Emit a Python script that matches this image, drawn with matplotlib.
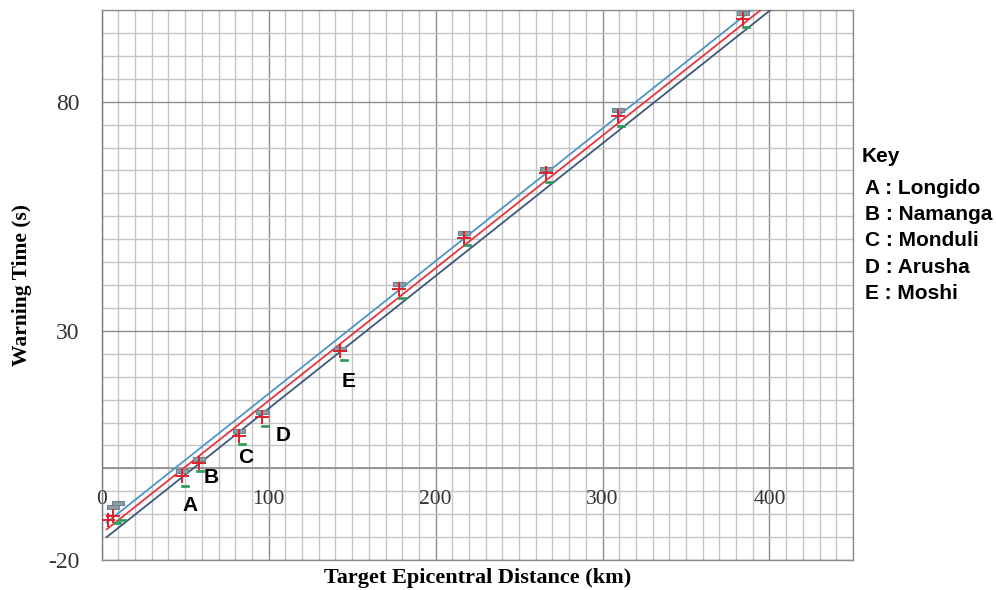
import matplotlib
matplotlib.use("Agg")
import matplotlib.pyplot as plt
from matplotlib.ticker import MultipleLocator
import numpy as np

# ---------------- data ----------------
upper_x = [7, 10, 48, 58, 82, 96, 143, 178, 217, 266, 309, 384]
upper_y = [-8.4, -7.6, -0.5, 2.0, 8.2, 12.3, 26.1, 40.3, 51.4, 65.4, 78.1, 99.4]

mid_x = [4, 7, 48, 58, 82, 96, 143, 178, 217, 266, 309, 384]
mid_y = [-11.3, -10.4, -1.7, 1.2, 7.1, 11.2, 25.6, 39.2, 50.3, 64.5, 76.9, 98.0]

low_x = [9, 12, 50, 59, 84, 98, 145, 180, 219, 268, 311, 386]
low_y = [-12.0, -11.2, -3.8, -0.5, 5.4, 9.2, 23.7, 37.2, 48.8, 62.5, 74.7, 96.2]

line_x = [3, 412]
line_upper = [-11.8, 106.6]
line_mid = [-13.3, 105.0]
line_low = [-15.0, 103.3]

town_letters = ["A", "B", "C", "D", "E"]
town_label_x = [52.7, 65.3, 86.2, 108.9, 147.7]
town_label_y = [-8.0, -2.1, 2.3, 7.1, 19.0]

key_title = "Key"
key_entries = ["A : Longido", "B : Namanga", "C : Monduli", "D : Arusha", "E : Moshi"]

x_tick_vals = [0, 100, 200, 300, 400]
y_tick_vals = [-20, 30, 80]

# ---------------- figure ----------------
fig = plt.figure(figsize=(9.96, 5.90), dpi=100)
ax = fig.add_axes([0.1021, 0.0508, 0.7543, 0.9322])
ax.set_xlim(0, 450)
ax.set_ylim(-20, 100)

# grid
ax.xaxis.set_minor_locator(MultipleLocator(10))
ax.yaxis.set_minor_locator(MultipleLocator(5))
ax.set_xticks([100, 200, 300, 400])
ax.set_yticks(y_tick_vals)
ax.grid(which="minor", color="#c4c4c4", lw=1.0, zorder=0)
ax.grid(which="major", color="#8c8c8c", lw=1.0, zorder=0)
ax.set_axisbelow(True)
ax.axhline(0, color="#8a8a8a", lw=1.2, zorder=1)
for s in ax.spines.values():
    s.set_color("#8c8c8c")
    s.set_linewidth(1.0)
ax.spines["left"].set_color("#7a7a7a")

ax.tick_params(which="both", length=0)
ax.set_xticklabels([])
ax.set_yticklabels([str(v) for v in y_tick_vals], fontfamily="Liberation Serif",
                   fontsize=17, color="#333333")
ax.tick_params(axis="y", pad=16)

for v in x_tick_vals:
    ax.text(v, -6.7, str(v), ha="center", va="center", fontfamily="Liberation Serif",
            fontsize=15.5, color="#333333", zorder=2)

# lines
ax.plot(line_x, line_upper, color="#4f94c4", lw=1.3, zorder=3)
ax.plot(line_x, line_mid, color="#e5363f", lw=1.3, zorder=3)
ax.plot(line_x, line_low, color="#3e5878", lw=1.3, zorder=3)

# markers
rect = [(-1, -0.38), (1, -0.38), (1, 0.38), (-1, 0.38), (-1, -0.38)]
ax.plot(upper_x, upper_y, ls="none", marker=rect, ms=9, mfc="#8a9ea7",
        mec="#6d8390", mew=0.8, zorder=4)
ax.plot(mid_x, mid_y, ls="none", marker="+", ms=10, mew=1.4, color="#e0202a", zorder=5)
ax.plot(low_x, low_y, ls="none", marker=rect, ms=5.5, mfc="#2f9a5c",
        mec="#2f9a5c", mew=0.5, zorder=4)

# town labels
for t, x, y in zip(town_letters, town_label_x, town_label_y):
    ax.text(x, y, t, ha="center", va="center", fontfamily="Liberation Sans",
            fontweight="bold", fontsize=15, color="black", zorder=6)

# axis labels
ax.set_xlabel("Target Epicentral Distance (km)", fontfamily="Liberation Serif",
              fontweight="bold", fontsize=16, va="center")
ax.xaxis.set_label_coords(0.5, -0.033)
ax.set_ylabel("Warning Time (s)", fontfamily="Liberation Serif",
              fontweight="bold", fontsize=15.5, va="center")
ax.yaxis.set_label_coords(-0.106, 0.5)

# key
fig.text(862 / 996, 1 - 157 / 590, key_title, ha="left", va="center",
         fontfamily="Liberation Sans", fontweight="bold", fontsize=15)
for i, e in enumerate(key_entries):
    yc = [188, 215, 241, 267, 293][i]
    fig.text(865 / 996, 1 - yc / 590, e, ha="left", va="center",
             fontfamily="Liberation Sans", fontweight="bold", fontsize=15)

fig.savefig("out.png", dpi=100)
